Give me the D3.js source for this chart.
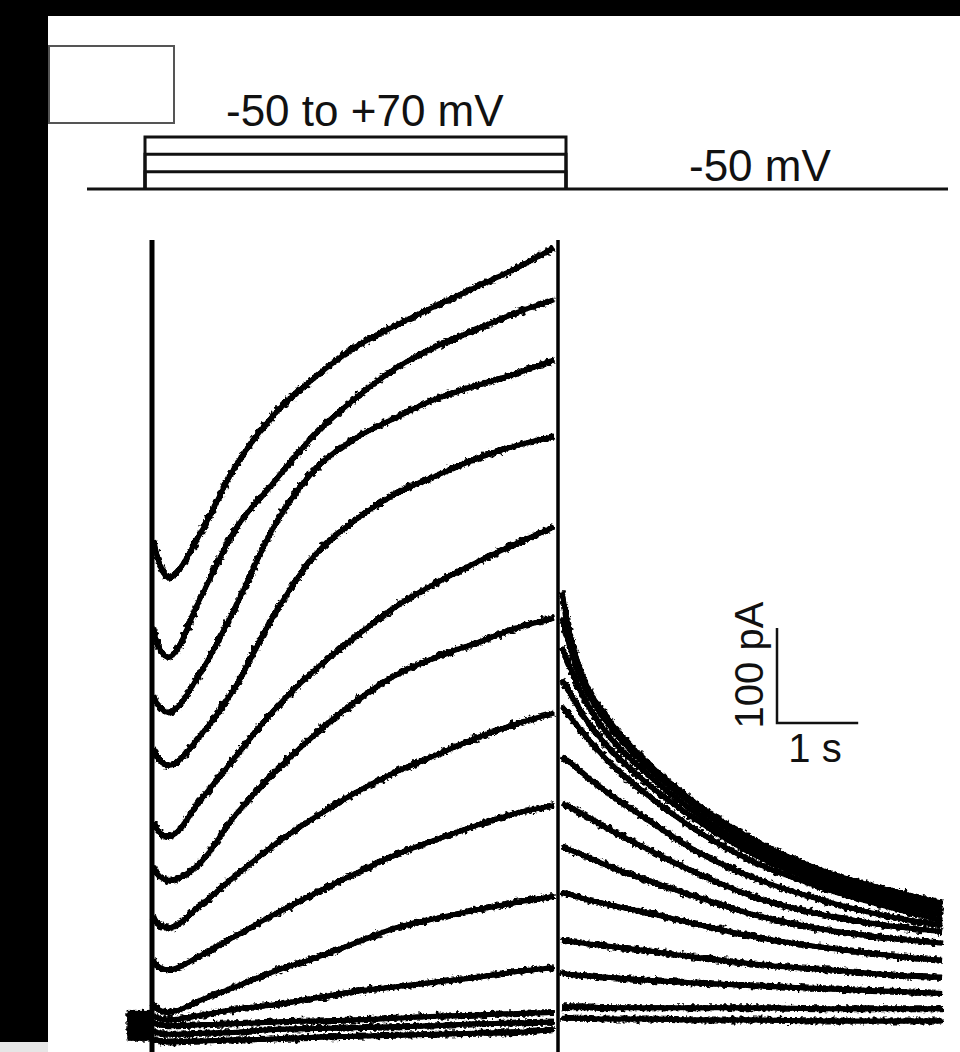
<!DOCTYPE html>
<html>
<head>
<meta charset="utf-8">
<script src="https://cdn.jsdelivr.net/npm/d3@7"></script>
<style>
  html, body { margin: 0; padding: 0; background: #fff; }
  svg { display: block; }
  text { font-family: "Liberation Sans", Arial, sans-serif; fill: #111; }
</style>
</head>
<body>
<svg id="chart" width="960" height="1052"></svg>
<script>
// voltage protocol (mV)
var holdLevel = -50
var stepLevels = [70, 30, -10]
var stepDuration = 5   // s

// sample times (s)
var holdTimes = [-0.3, 0]
var stepTimes = [0.02, 0.05, 0.2, 0.6, 1.0, 1.5, 2.0, 2.5, 3.0, 3.5, 4.0, 4.5, 4.95]
var tailTimes = [5.05, 5.15, 5.3, 5.6, 6.1, 6.7, 7.4, 8.3, 9.2, 9.73]

// holding current before the step, one per sweep (pA)
var holdCurrents = [28, 26, 24, 22, 20, 18, 15, 13, 10, 8, 6, 4, 2]

// current during the step, one row per sweep (pA)
var stepCurrents = [
  [526, 514, 487, 534, 600, 658, 697, 729, 752, 773, 793, 813, 834],
  [434, 421, 403, 466, 534, 587, 637, 675, 707, 730, 748, 766, 779],
  [363, 356, 345, 387, 451, 540, 600, 633, 655, 675, 689, 702, 716],
  [307, 300, 289, 321, 368, 447, 510, 547, 575, 594, 612, 626, 635],
  [229, 223, 214, 253, 295, 347, 389, 424, 456, 481, 503, 523, 540],
  [183, 177, 168, 187, 234, 281, 321, 356, 384, 403, 418, 434, 444],
  [131, 124, 118, 142, 171, 205, 234, 260, 282, 300, 318, 333, 344],
  [84, 79, 74, 89, 108, 132, 154, 175, 195, 211, 226, 239, 247],
  [38, 34, 29, 42, 55, 72, 86, 102, 118, 128, 137, 145, 151],
  [26, 24, 21, 26, 32, 37, 44, 51, 56, 61, 66, 72, 76],
  [19, 17, 15, 16, 17, 19, 20, 21, 23, 25, 26, 28, 29],
  [11, 8, 6, 7, 8, 11, 12, 13, 14, 15, 17, 18, 19],
  [2, 0, -2, -1, 0, 1, 3, 4, 5, 6, 7, 8, 11]
]

// tail current back at -50 mV, one row per sweep (pA)
var tailCurrents = [
  [471, 426, 384, 340, 292, 249, 211, 177, 155, 144],
  [444, 413, 377, 335, 288, 246, 207, 174, 152, 141],
  [413, 392, 363, 323, 280, 239, 201, 169, 147, 137],
  [379, 365, 343, 310, 270, 232, 196, 164, 142, 132],
  [351, 340, 324, 295, 258, 221, 188, 159, 137, 126],
  [298, 292, 281, 261, 232, 199, 171, 146, 128, 121],
  [249, 245, 238, 223, 201, 176, 151, 131, 119, 114],
  [203, 200, 195, 184, 168, 151, 132, 116, 106, 102],
  [155, 153, 149, 143, 134, 122, 109, 97, 88, 84],
  [105, 104, 102, 99, 94, 87, 80, 74, 68, 66],
  [71, 69, 68, 66, 63, 60, 57, 54, 51, 49],
  [35, 35, 35, 34, 34, 34, 34, 33, 33, 33],
  [23, 23, 23, 22, 22, 21, 21, 20, 20, 20]
]

// capacitive transients at step on/off, clipped (pA)
var transientTimes = [0, stepDuration]
var transientRange = [842, -13]

// scale bar
var barCurrent = 100  // pA
var barTime = 1       // s

var svg = d3.select("#chart")

// scales
var x = d3.scaleLinear().domain([0, stepDuration]).range([152, 558])
var y = d3.scaleLinear().domain([0, 100]).range([1040, 945])
var xv = d3.scaleLinear().domain([0, stepDuration]).range([145, 566])
var yv = d3.scaleLinear().domain([holdLevel, 70]).range([189, 137])

svg.append("rect").attr("width", 960).attr("height", 1052).attr("fill", "#fff")

// noise look for the recorded traces: solid core plus jittered copies
var defs = svg.append("defs")
var filt = defs.append("filter")
  .attr("id", "noisy")
  .attr("filterUnits", "userSpaceOnUse")
  .attr("x", 0).attr("y", 0).attr("width", 960).attr("height", 1052)
filt.append("feTurbulence")
  .attr("type", "fractalNoise")
  .attr("baseFrequency", "0.22")
  .attr("numOctaves", 2)
  .attr("seed", 3)
  .attr("result", "turb")
filt.append("feDisplacementMap")
  .attr("in", "SourceGraphic")
  .attr("in2", "turb")
  .attr("scale", 9)
  .attr("xChannelSelector", "R")
  .attr("yChannelSelector", "G")
  .attr("result", "disp")
filt.append("feTurbulence")
  .attr("type", "fractalNoise")
  .attr("baseFrequency", "0.4")
  .attr("numOctaves", 1)
  .attr("seed", 11)
  .attr("result", "turb2")
filt.append("feDisplacementMap")
  .attr("in", "SourceGraphic")
  .attr("in2", "turb2")
  .attr("scale", 7)
  .attr("xChannelSelector", "B")
  .attr("yChannelSelector", "R")
  .attr("result", "disp2")
var merge = filt.append("feMerge")
merge.append("feMergeNode").attr("in", "disp")
merge.append("feMergeNode").attr("in", "disp2")
merge.append("feMergeNode").attr("in", "SourceGraphic")

// voltage protocol
var protoLine = d3.line()
  .x(function(d) { return xv(d[0]); })
  .y(function(d) { return yv(d[1]); })

svg.append("g")
  .selectAll("path")
  .data(stepLevels)
  .enter()
  .append("path")
  .attr("d", function(v) {
    return protoLine([[0, holdLevel], [0, v], [stepDuration, v], [stepDuration, holdLevel]])
  })
  .style("fill", "none")
  .style("stroke", "#111")
  .style("stroke-width", 3)

svg.append("path")
  .attr("d", protoLine([[xv.invert(87), holdLevel], [xv.invert(948), holdLevel]]))
  .style("fill", "none")
  .style("stroke", "#111")
  .style("stroke-width", 3)

svg.append("text")
  .attr("x", 226)
  .attr("y", 126)
  .style("font-size", "44px")
  .text("-50 to +70 mV")

svg.append("text")
  .attr("x", 689)
  .attr("y", 181)
  .style("font-size", "44px")
  .text("-50 mV")

// current traces
var line = d3.line()
  .x(function(d) { return x(d[0]); })
  .y(function(d) { return y(d[1]); })
  .curve(d3.curveMonotoneX)

var traces = svg.append("g").attr("filter", "url(#noisy)")

function pairs(times, vals) {
  return times.map(function(t, i) { return [t, vals[i]]; })
}

traces.selectAll(".hold")
  .data(holdCurrents)
  .enter()
  .append("path")
  .attr("class", "hold")
  .attr("d", function(v) { return line(pairs(holdTimes, [v, v])); })

traces.selectAll(".step")
  .data(stepCurrents)
  .enter()
  .append("path")
  .attr("class", "step")
  .attr("d", function(d) { return line(pairs(stepTimes, d)); })

traces.selectAll(".tail")
  .data(tailCurrents)
  .enter()
  .append("path")
  .attr("class", "tail")
  .attr("d", function(d) { return line(pairs(tailTimes, d)); })

traces.selectAll("path")
  .style("fill", "none")
  .style("stroke", "#000")
  .style("stroke-width", 5)
  .style("stroke-linejoin", "round")

// on/off transients
svg.append("g")
  .selectAll("line")
  .data(transientTimes)
  .enter()
  .append("line")
  .attr("x1", function(t) { return x(t); })
  .attr("x2", function(t) { return x(t); })
  .attr("y1", y(transientRange[0]))
  .attr("y2", y(transientRange[1]))
  .style("stroke", "#000")
  .style("stroke-width", function(t, i) { return i == 0 ? 5 : 3.5; })

// scale bar
var bx = x.invert(777), by = y.invert(723)
svg.append("path")
  .attr("d", d3.line()([[x(bx), y(by + barCurrent)], [x(bx), y(by)], [x(bx + barTime), y(by)]]))
  .style("fill", "none")
  .style("stroke", "#111")
  .style("stroke-width", 2.5)

svg.append("text")
  .attr("text-anchor", "middle")
  .attr("transform", "translate(763,665)rotate(-90)")
  .style("font-size", "40px")
  .text(barCurrent + " pA")

svg.append("text")
  .attr("x", 815)
  .attr("y", 762)
  .attr("text-anchor", "middle")
  .style("font-size", "40px")
  .text(barTime + " s")

// frame from the scan
svg.append("rect").attr("x", 0).attr("y", 0).attr("width", 960).attr("height", 16).attr("fill", "#000")
svg.append("rect").attr("x", 0).attr("y", 0).attr("width", 48).attr("height", 1042).attr("fill", "#000")
svg.append("rect").attr("x", 0).attr("y", 1042).attr("width", 48).attr("height", 10).attr("fill", "#e6e6e6")
svg.append("rect")
  .attr("x", 49).attr("y", 46).attr("width", 125).attr("height", 77)
  .attr("fill", "#fff")
  .style("stroke", "#555")
  .style("stroke-width", 2)
</script>
</body>
</html>
